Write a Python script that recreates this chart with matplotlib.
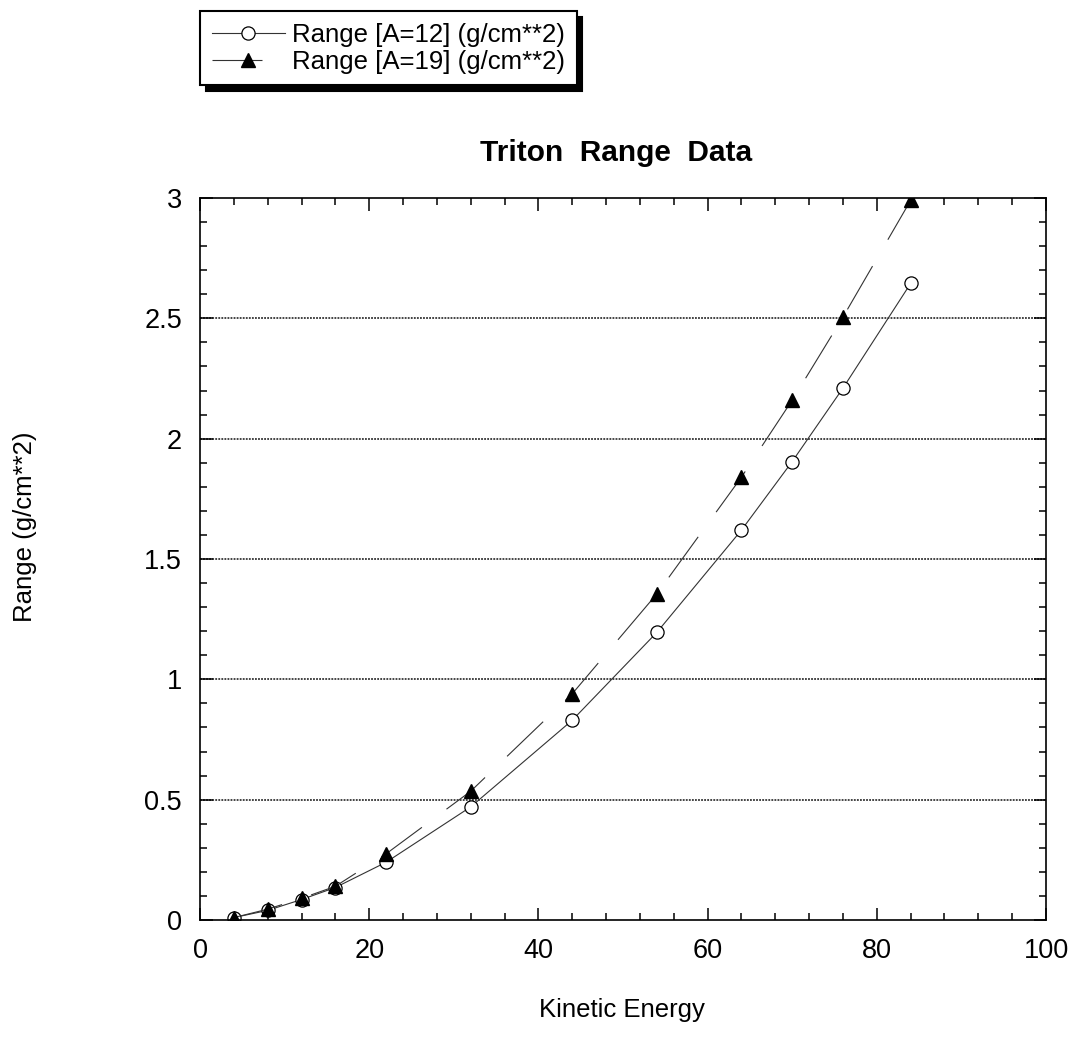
import numpy as np
import matplotlib
matplotlib.use("Agg")
from matplotlib import pyplot as plt
from matplotlib.ticker import MultipleLocator

plt.rcParams.update({
    "font.family": ["Liberation Sans", "DejaVu Sans"],
    "font.size": 18.5})

# Triton range data
energy = [4, 8, 12, 16, 22, 32, 44, 54, 64, 70, 76, 84]
range_a12 = [0.01, 0.04, 0.085, 0.135, 0.24, 0.47, 0.83, 1.195, 1.62, 1.905, 2.21, 2.645]
range_a19 = [0.01, 0.045, 0.09, 0.14, 0.275, 0.535, 0.94, 1.355, 1.84, 2.16, 2.505, 2.99]

label_a12 = "Range [A=12] (g/cm**2)"
label_a19 = "Range [A=19] (g/cm**2)"

fig = plt.figure(figsize=(10.71, 10.45), dpi=100)
ax = fig.add_axes([200/1071, 125/1045, 846/1071, 722/1045])

lw = 0.8
ax.plot(energy, range_a12, "-", color="#333333", lw=lw, marker="o", ms=9.5,
        mfc="white", mec="black", mew=0.9, label=label_a12)
ax.plot(energy, range_a19, color="#333333", lw=lw, linestyle=(0, (36/lw, 22/lw)),
        marker="^", ms=9.5, mfc="black", mec="black", label=label_a19)

ax.set_xlim(0, 100)
ax.set_ylim(0, 3)
ax.xaxis.set_major_locator(MultipleLocator(20))
ax.xaxis.set_minor_locator(MultipleLocator(4))
ax.yaxis.set_minor_locator(MultipleLocator(0.1))
ax.set_yticks([0, 0.5, 1, 1.5, 2, 2.5, 3])
ax.set_yticklabels(["0", "0.5", "1", "1.5", "2", "2.5", "3"])
ax.tick_params(which="both", direction="in", top=True, right=True, width=1.1,
               labelsize=19.5)
ax.tick_params(which="major", length=9, pad=13)
ax.tick_params(which="minor", length=5)
for sp in ax.spines.values():
    sp.set_linewidth(1.2)

for y in [0.5, 1, 1.5, 2, 2.5]:
    ax.axhline(y, color="#111111", lw=1.1, linestyle=(0, (1.2, 0.8)), zorder=0.5)

fig.text(616/1071, 1 - 153/1045, "Triton  Range  Data", ha="center", va="center",
         fontsize=21.5, fontweight="bold")
fig.text(622/1071, 1 - 1010/1045, "Kinetic Energy", ha="center", va="center")
fig.text(25/1071, 1 - 527/1045, "Range (g/cm**2)", ha="center", va="center",
         rotation=90)

leg = fig.legend(loc="upper left", bbox_to_anchor=(200/1071, 1 - 11/1045),
                 borderaxespad=0, fancybox=False, framealpha=1, edgecolor="black",
                 handlelength=2.85, handletextpad=0.28, borderpad=0.45,
                 labelspacing=0.13,
                 shadow={"ox": 4, "oy": -4, "color": "black", "alpha": 1})
leg.get_frame().set_linewidth(1.5)

fig.savefig("out.png", dpi=100)
